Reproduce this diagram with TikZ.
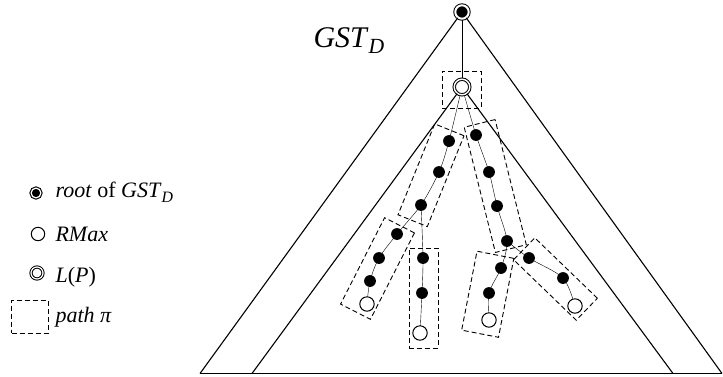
\documentclass[tikz,border=0pt]{standalone}
\usepackage{fontspec}
\setmainfont{Liberation Serif}
\usepackage{graphicx}
\usetikzlibrary{backgrounds}
\newcommand\subD{\raisebox{-0.22em}{\scalebox{0.72}{\itshape D}}}
\begin{document}
\begin{tikzpicture}[x=1pt,y=-1pt,line width=1.1pt,
  blk/.style={circle,fill=black,inner sep=0pt,minimum size=11.8pt},
  wht/.style={circle,draw,fill=white,inner sep=0pt,minimum size=14.4pt,line width=1pt},
  rootnode/.style={circle,draw,fill=black,double=white,double distance=2pt,line width=1pt,inner sep=0pt,minimum size=13.4pt},
  lpnode/.style={circle,draw,fill=white,double=white,double distance=1.4pt,line width=1pt,inner sep=0pt,minimum size=15.6pt},
  rootleg/.style={circle,draw,fill=black,double=white,double distance=1.2pt,line width=1.1pt,inner sep=0pt,minimum size=9.8pt},
  lpleg/.style={circle,draw,fill=white,double=white,double distance=1.2pt,line width=1pt,inner sep=0pt,minimum size=12pt},
  whtleg/.style={circle,draw,fill=white,inner sep=0pt,minimum size=13.4pt,line width=1pt},
  pathbox/.style={rectangle,draw,dash pattern=on 5pt off 3pt,line width=0.9pt,inner sep=0pt},
  lbl/.style={font=\fontsize{22}{26}\selectfont,anchor=base west,inner sep=0pt}
]
\useasboundingbox (0,0) rectangle (723,376);

% title
\node[anchor=base west,inner sep=0pt,font=\fontsize{30}{36}\selectfont] (title) at (313,47) {\textit{GST}\subD};

% tree nodes
\node[rootnode] (R) at (462,12) {};
\node[lpnode] (LP) at (462,87) {};
\node[blk] (a1) at (449,141) {};
\node[blk] (a2) at (439,172) {};
\node[blk] (a3) at (421,205) {};
\node[blk] (a4) at (397,234) {};
\node[blk] (a5) at (379,258) {};
\node[blk] (a6) at (370,281) {};
\node[wht] (aw) at (367,304) {};
\node[blk] (b1) at (423,258) {};
\node[blk] (b2) at (422,293) {};
\node[wht] (bw) at (420,333) {};
\node[blk] (c1) at (476,135) {};
\node[blk] (c2) at (489,172) {};
\node[blk] (c3) at (497,206) {};
\node[blk] (c4) at (507,241) {};
\node[blk] (d1) at (501,268) {};
\node[blk] (d2) at (489,293) {};
\node[wht] (dw) at (489,320) {};
\node[blk] (e1) at (529,258) {};
\node[blk] (e2) at (563,278) {};
\node[wht] (ew) at (575,306) {};

% triangles
\coordinate (ol) at (200,373.5);
\coordinate (or) at (722,373.5);
\coordinate (il) at (252,373.5);
\coordinate (ir) at (673,373.5);
\draw (ol) -- (R) -- (or);
\draw (il) -- (LP) -- (ir);
\draw[line width=1.3pt] (ol) -- (or);

% tree edges
\begin{scope}[on background layer,line width=1.1pt]
\draw (R) -- (LP);
\draw plot[smooth,tension=0.5] coordinates {(LP.center) (a1.center) (a2.center) (a3.center) (a4.center) (a5.center) (a6.center) (aw.center)};
\draw plot[smooth,tension=0.5] coordinates {(a3.center) (b1.center) (b2.center) (bw.center)};
\draw plot[smooth,tension=0.5] coordinates {(LP.center) (c1.center) (c2.center) (c3.center) (c4.center) (d1.center) (d2.center) (dw.center)};
\draw plot[smooth,tension=0.5] coordinates {(c4.center) (e1.center) (e2.center) (ew.center)};
\end{scope}

% path boxes
\node[pathbox,minimum width=39pt,minimum height=37pt] (p1) at (461.5,89.5) {};
\node[pathbox,minimum width=31.6pt,minimum height=98pt,rotate=-22] (p2) at (431,175.25) {};
\node[pathbox,minimum width=33.5pt,minimum height=97pt,rotate=-27] (p3) at (377.5,268.5) {};
\node[pathbox,minimum width=29pt,minimum height=100pt] (p4) at (423.5,298) {};
\node[pathbox,minimum width=31.8pt,minimum height=129pt,rotate=14] (p5) at (495.25,186) {};
\node[pathbox,minimum width=37.5pt,minimum height=80.4pt,rotate=-11] (p6) at (487.75,294.25) {};
\node[pathbox,minimum width=87pt,minimum height=30.5pt,rotate=-44] (p7) at (555.5,279) {};

% legend
\node[rootleg] (lr) at (36,193) {};
\node[lbl] (tr) at (55,197.5) {\textit{root} of \textit{GST}\subD};
\node[whtleg] (lw) at (38,234) {};
\node[lbl] (tw) at (55,241) {\textit{RMax}};
\node[lpleg] (ll) at (37,273) {};
\node[lbl] (tl) at (55,282.7) {\textit{L}(\textit{P})};
\node[pathbox,minimum width=36.6pt,minimum height=33.3pt] (lb) at (30,316.7) {};
\node[lbl] (tp) at (55,322.7) {\textit{path π}};
\end{tikzpicture}
\end{document}
